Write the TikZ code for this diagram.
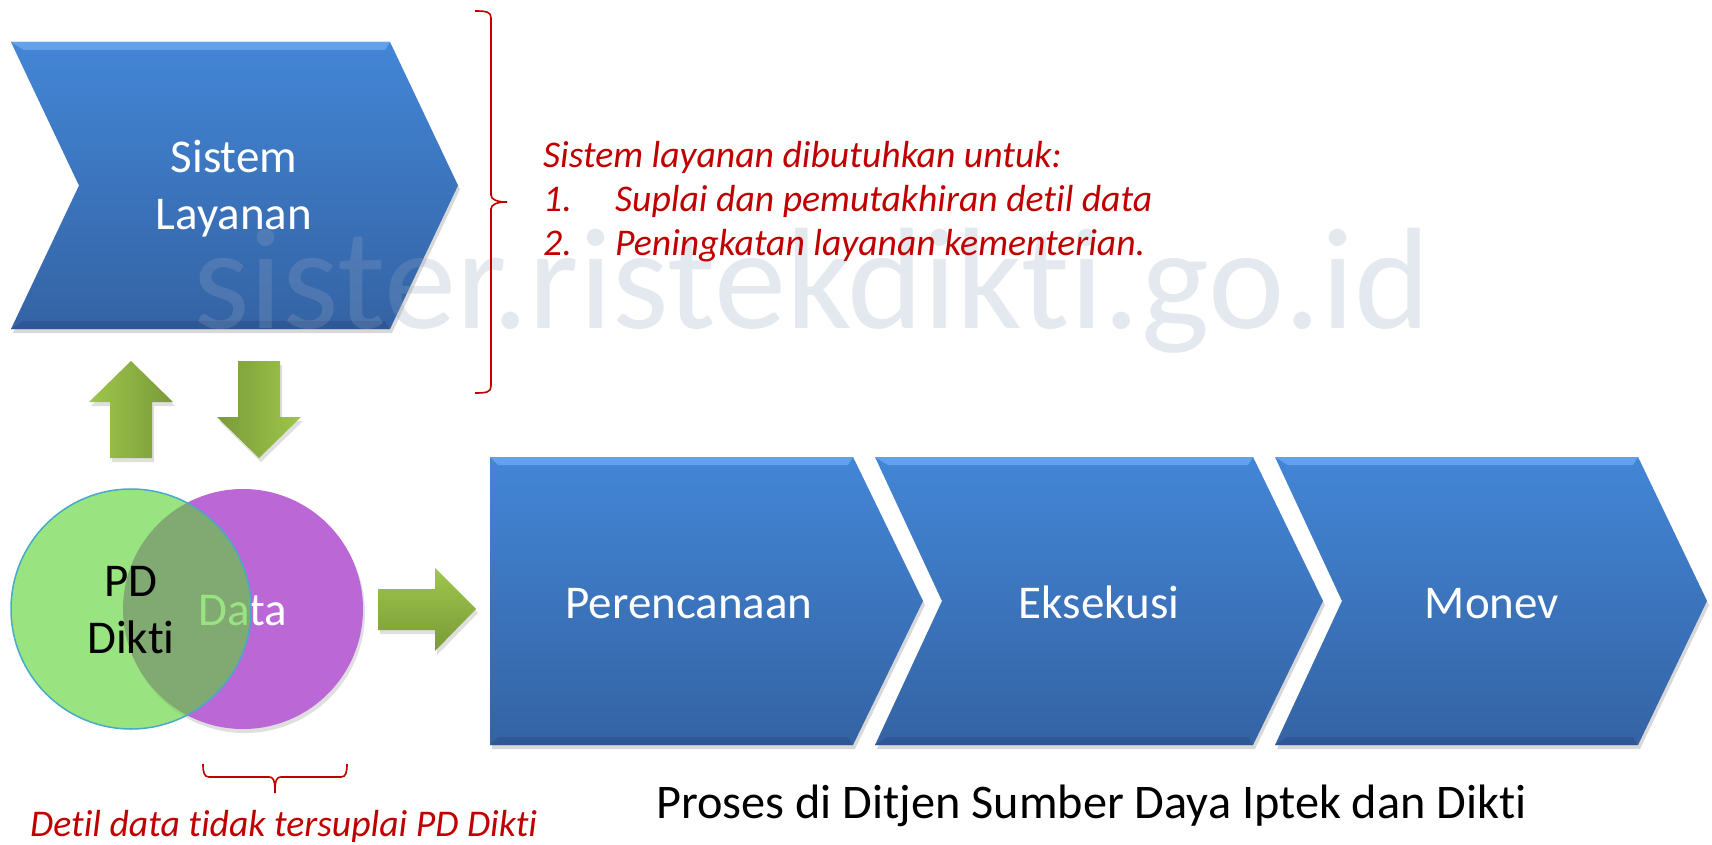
\documentclass[tikz,border=0pt]{standalone}
\usepackage{fontspec}
\setmainfont{Carlito}[Ligatures=NoCommon]
\usetikzlibrary{shadows}

\definecolor{chevtop}{RGB}{67,134,214}
\definecolor{chevbot}{RGB}{52,99,164}
\definecolor{bevlite}{RGB}{98,162,234}
\definecolor{bevdark}{RGB}{40,78,134}
\definecolor{arrowlite}{RGB}{158,198,76}
\definecolor{arrowdark}{RGB}{122,154,56}
\definecolor{pdgreen}{RGB}{92,211,53}
\definecolor{dataviolet}{RGB}{187,104,214}
\definecolor{rimcyan}{RGB}{70,170,200}
\definecolor{notered}{RGB}{192,0,0}
\definecolor{wmarkgray}{RGB}{150,165,195}

\tikzset{
    chevfill/.style={top color=chevtop, bottom color=chevbot,
        drop shadow={opacity=0.3, shadow xshift=2pt, shadow yshift=-4pt}},
    bevtop/.style={fill=bevlite},
    bevbot/.style={fill=bevdark, fill opacity=0.5},
    blockarrow/.style={drop shadow={opacity=0.25, shadow xshift=2pt, shadow yshift=-4pt}},
    chevtext/.style={text=white, font=\fontsize{47}{57}\selectfont, align=center, inner sep=0pt},
    notetext/.style={text=notered, font=\fontsize{37.7}{44}\selectfont\itshape, align=left, inner sep=0pt},
    bracepath/.style={draw=notered, line width=1.6pt},
}

% left x, notch depth, shoulder x, tip x, top y, bottom y
\newcommand{\procchev}[6]{%
    \path[chevfill] (#1,#5) -- (#3,#5) -- (#4,{(#5+#6)/2}) -- (#3,#6) -- (#1,#6)
        -- ({#1+#2},{(#5+#6)/2}) -- cycle;
    \path[bevtop] (#1,#5) -- (#3,#5) -- ({#3-5},{#5+8}) -- ({#1+8+0.07*#2},{#5+8}) -- cycle;
    \path[bevbot] (#1,#6) -- (#3,#6) -- ({#3-5},{#6-8}) -- ({#1+8+0.07*#2},{#6-8}) -- cycle;
}

\begin{document}
\begin{tikzpicture}[x=1pt, y=-1pt]
    \path[use as bounding box, fill=white] (0,0) rectangle (1712,845);

    \procchev{11}{68}{390}{458}{42}{329}                % sistem layanan
    \node[chevtext] (layanan) at (234,189) {Sistem\\Layanan};

    \procchev{490}{0}{853}{923}{457}{745}               % the three steps
    \procchev{875}{67}{1253}{1323}{457}{745}
    \procchev{1275}{67}{1638}{1707}{457}{745}
    \node[chevtext, anchor=base] (plan) at (689,618) {Perencanaan};
    \node[chevtext, anchor=base] (exec) at (1099,618) {Eksekusi};
    \node[chevtext, anchor=base] (monev) at (1492,618) {Monev};

    \fill[dataviolet, blockarrow] (243,609) circle (120);      % data circle
    \node[chevtext, anchor=base] (data) at (243,625) {Data};
    \fill[pdgreen, fill opacity=0.62] (131,609) circle (120);  % pd dikti circle
    \draw[rimcyan, line width=1.5pt] (131,609) circle (120);
    \node[chevtext, text=black] (pddikti) at (131,610) {PD\\Dikti};

    \path[blockarrow, left color=arrowlite, right color=arrowdark]   % up
        (131,361) -- (173,402) -- (152,402) -- (152,458) -- (110,458) -- (110,402) -- (89,402) -- cycle;
    \path[blockarrow, left color=arrowdark, right color=arrowlite]   % down
        (238,361) -- (280,361) -- (280,417) -- (301,417) -- (259,458) -- (217,417) -- (238,417) -- cycle;
    \path[blockarrow, top color=arrowlite, bottom color=arrowdark]   % right
        (378,589) -- (435,589) -- (435,568) -- (476,609) -- (435,651) -- (435,630) -- (378,630) -- cycle;

    \node[anchor=base west, inner sep=0pt, text=wmarkgray, text opacity=0.25,
        font=\fontsize{144.5}{144.5}\selectfont] (wmark) at (193,328) {sister.ristekdikti.go.id};

    \draw[bracepath] (475,11) .. controls (487,11) and (491,12) .. (491,18) -- (491,195)
        .. controls (491,200) and (498,202) .. (507,202)
        .. controls (498,202) and (491,204) .. (491,209) -- (491,386)
        .. controls (491,392) and (487,393) .. (475,393);
    \draw[bracepath] (203,764) .. controls (203,772) and (204,777) .. (209,777) -- (269,777)
        .. controls (273,777) and (275,779) .. (275,793)
        .. controls (275,779) and (277,777) .. (281,777) -- (341,777)
        .. controls (346,777) and (347,772) .. (347,764);

    \node[notetext, anchor=west] (need) at (543,202)
        {Sistem layanan dibutuhkan untuk:\\
         \makebox[72pt][l]{1.}Suplai dan pemutakhiran detil data\\
         \makebox[72pt][l]{2.}Peningkatan layanan kementerian.};
    \node[notetext, anchor=base west] (gap) at (30,836) {Detil data tidak tersuplai PD Dikti};
    \node[anchor=base west, inner sep=0pt, font=\fontsize{48.3}{57}\selectfont]
        (proses) at (656,818) {Proses di Ditjen Sumber Daya Iptek dan Dikti};
\end{tikzpicture}
\end{document}
